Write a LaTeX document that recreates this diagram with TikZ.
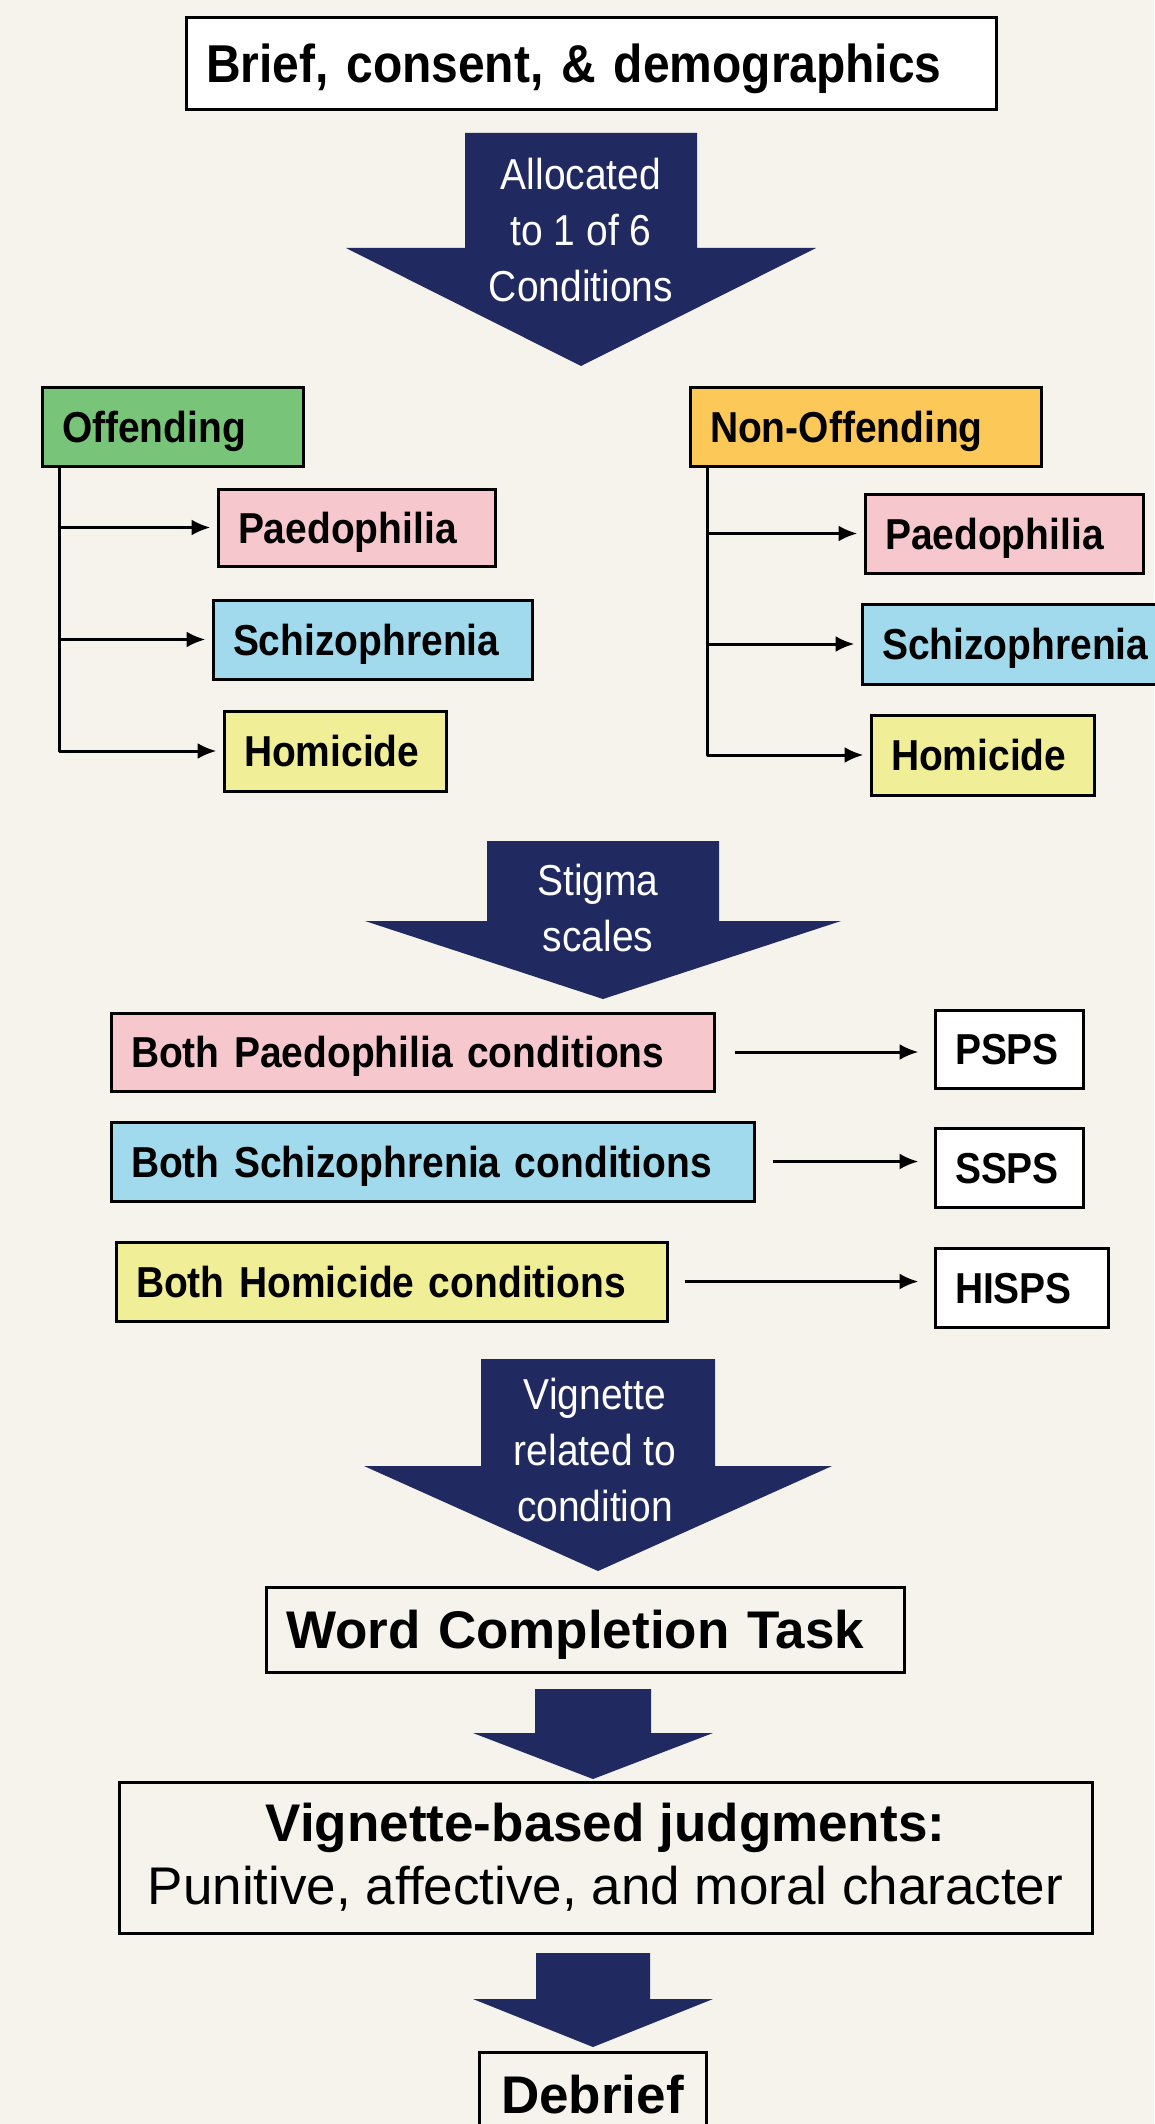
\documentclass[tikz,border=0pt]{standalone}
\usepackage{fontspec}
\setmainfont{Liberation Sans}[FakeStretch=0.9]
\newfontfamily\plainwidth{Liberation Sans}
\usepackage{tikz}
\usetikzlibrary{positioning,arrows.meta}

\definecolor{paper}{RGB}{245,243,236}
\definecolor{navy}{RGB}{32,41,96}
\definecolor{offgreen}{RGB}{120,197,122}
\definecolor{nonorange}{RGB}{252,200,88}
\definecolor{paedpink}{RGB}{246,200,205}
\definecolor{schizblue}{RGB}{160,218,236}
\definecolor{homyellow}{RGB}{240,238,150}

\newcommand{\smallfnt}{\fontsize{43.3pt}{56pt}\selectfont}
\newcommand{\brieffnt}{\fontsize{53.3pt}{60pt}\selectfont}
\newcommand{\largefnt}{\plainwidth\fontsize{53pt}{63pt}\selectfont}

% big navy block arrow: centre x, top, shaft half width, wing y, wing half width, tip
\newcommand{\downblock}[6]{%
    \fill[navy] ({#1-#3},#2) -- ({#1+#3},#2) -- ({#1+#3},#4) -- ({#1+#5},#4)
        -- (#1,#6) -- ({#1-#5},#4) -- ({#1-#3},#4) -- cycle;}

\begin{document}
\begin{tikzpicture}[
        x=1pt, y=-1pt,
        tag/.style={draw, line width=3pt, inner xsep=20pt, inner ysep=0pt,
            text height=31pt, text depth=0pt, align=left, font=\smallfnt\bfseries},
        bigbox/.style={draw, line width=3pt, fill=paper, inner sep=0pt, align=center},
        arrowtext/.style={text=white, align=center, font=\smallfnt},
        link/.style={line width=3pt, line join=round, -{Latex[length=19pt,width=16pt]}}
    ]
        \useasboundingbox (0,0) rectangle (1154,2124);
        \fill[paper] (0,0) rectangle (1154,2124);

        \node[tag, fill=white, font=\brieffnt\bfseries, text height=38pt,
            text width=770pt, minimum height=92pt] (brief) at (591,64)
            {Brief, consent, \& demographics};

        \downblock{581}{133}{116}{248}{235}{366}
        \node[arrowtext] (alloc) at (581,230) {Allocated\\to 1 of 6\\Conditions};

        % the two groups
        \node[tag, fill=offgreen, text width=221pt, minimum height=79pt] (off) at (172.5,426.5) {Offending};
        \node[tag, fill=nonorange, text width=311pt, minimum height=79pt] (nonoff) at (865.5,426.5) {Non-Offending};

        \node[tag, fill=paedpink, text width=237pt, minimum height=77pt] (lpaed) at (356.5,527.5) {Paedophilia};
        \node[tag, fill=schizblue, text width=279pt, minimum height=79pt] (lschiz) at (372.5,639.5) {Schizophrenia};
        \node[tag, fill=homyellow, text width=182pt, minimum height=80pt] (lhom) at (335,751) {Homicide};

        \node[tag, fill=paedpink, text width=238pt, minimum height=79pt] (rpaed) at (1004,533.5) {Paedophilia};
        \node[tag, fill=schizblue, text width=270pt, minimum height=80pt] (rschiz) at (1017,644) {Schizophrenia};
        \node[tag, fill=homyellow, text width=183pt, minimum height=80pt] (rhom) at (982.5,755) {Homicide};

        \coordinate[right=19pt of off.south west] (ltrunk);
        \coordinate[right=19pt of nonoff.south west] (rtrunk);
        \draw[link, shorten >=6pt] (ltrunk) |- (lhom.west);
        \draw[link, shorten >=6pt] (rtrunk) |- (rhom.west);
        \foreach \b in {lpaed,lschiz}
            \draw[link, shorten >=6pt] (ltrunk |- \b.west) -- (\b.west);
        \foreach \b in {rpaed,rschiz}
            \draw[link, shorten >=6pt] (rtrunk |- \b.west) -- (\b.west);

        \downblock{603}{841}{116}{921}{238}{999}
        \node[arrowtext] (stigma) at (598,908) {Stigma\\scales};

        % scales
        \node[tag, fill=paedpink, text width=563pt, minimum height=78pt] (bpaed) at (412.5,1052) {Both Paedophilia conditions};
        \node[tag, fill=schizblue, text width=603pt, minimum height=79pt] (bschiz) at (432.5,1161.5) {Both Schizophrenia conditions};
        \node[tag, fill=homyellow, text width=511pt, minimum height=79pt] (bhom) at (391.5,1281.5) {Both Homicide conditions};

        \node[tag, fill=white, text width=108pt, minimum height=78pt] (psps) at (1009,1049) {PSPS};
        \node[tag, fill=white, text width=108pt, minimum height=79pt] (ssps) at (1009,1167.5) {SSPS};
        \node[tag, fill=white, text width=133pt, minimum height=79pt] (hisps) at (1021.5,1287.5) {HISPS};

        \draw[link, shorten <=19pt, shorten >=15pt] (bpaed.east) -- (bpaed.east -| psps.west);
        \draw[link, shorten <=17pt, shorten >=15pt] (bschiz.east) -- (bschiz.east -| ssps.west);
        \draw[link, shorten <=16pt, shorten >=15pt] (bhom.east) -- (bhom.east -| hisps.west);

        \downblock{598}{1359}{117}{1466}{234}{1571}
        \node[arrowtext] (vigtext) at (595,1450) {Vignette\\related to\\condition};

        \node[tag, fill=paper, font=\largefnt\bfseries, text height=38pt,
            text width=598pt, minimum height=85pt] (words) at (585,1629.5) {Word Completion Task};

        \downblock{593}{1689}{58}{1733}{120}{1779}

        \node[bigbox, font=\largefnt, minimum width=973pt, minimum height=151pt] (judge) at (605.5,1857.5)
            {{\bfseries Vignette-based judgments:}\\Punitive, affective, and moral character};

        \downblock{593}{1953}{57}{1999}{120}{2047}

        \node[bigbox, font=\largefnt\bfseries, text height=38pt, text depth=0pt,
            minimum width=227pt, minimum height=85pt] (debrief) at (592.5,2094.5) {Debrief};
    \end{tikzpicture}
\end{document}
